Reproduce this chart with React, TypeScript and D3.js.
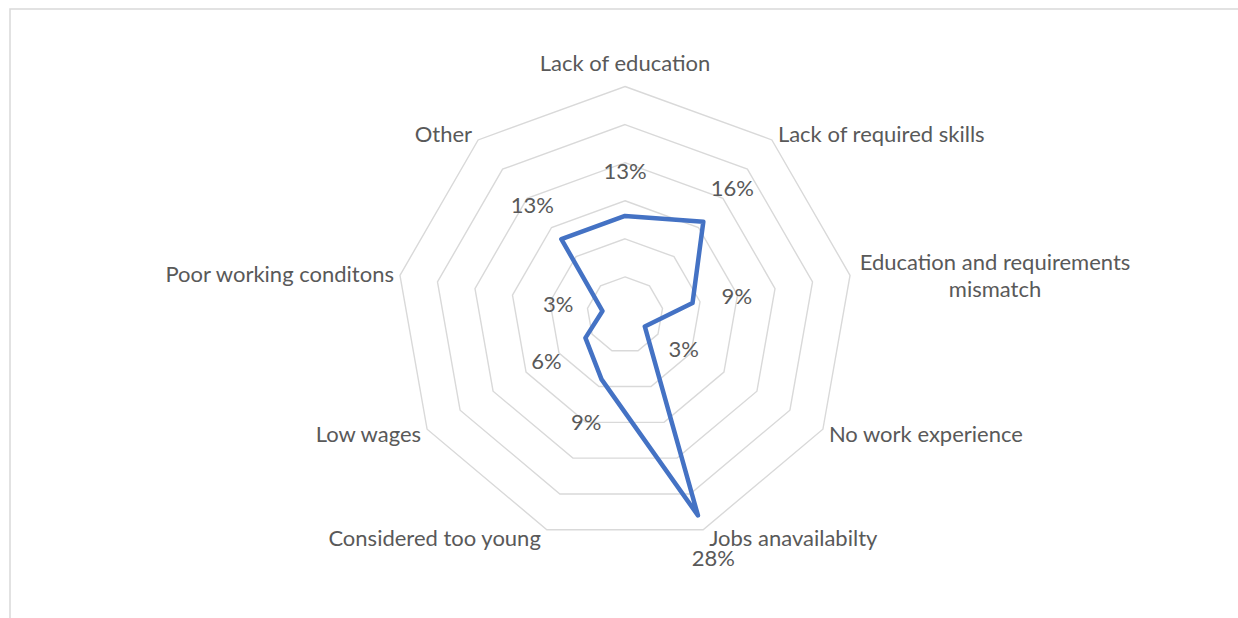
import React from "react";
import * as d3 from "d3";

const categories: string[][] = [
  ["Lack of education"],
  ["Lack of required skills"],
  ["Education and requirements", "mismatch"],
  ["No work experience"],
  ["Jobs anavailabilty"],
  ["Considered too young"],
  ["Low wages"],
  ["Poor working conditons"],
  ["Other"],
];
const values: number[] = [13, 16, 9, 3, 28, 9, 6, 3, 13];
const ringTicks: number[] = [5, 10, 15, 20, 25, 30];

const W = 1238;
const H = 618;
const cx = 625;
const cy = 315;
const R = 228.5;
const FONT = "Lato, 'Open Sans', sans-serif";
const TEXT = "#595959";

export default function App() {
  const n = categories.length;
  const angle = d3
    .scaleLinear()
    .domain([0, n])
    .range([0, 2 * Math.PI]);
  const r = d3.scaleLinear().domain([0, 30]).range([0, R]);

  const pt = (i: number, rad: number): [number, number] => {
    const a = angle(i);
    return [cx + rad * Math.sin(a), cy - rad * Math.cos(a)];
  };

  const lineGen = d3
    .line<[number, number]>()
    .x((d) => d[0])
    .y((d) => d[1])
    .curve(d3.curveLinearClosed);

  const rings = ringTicks.map((t) =>
    lineGen(d3.range(n).map((i) => pt(i, r(t))))
  );
  const dataPath = lineGen(values.map((v, i) => pt(i, r(v))));

  const fs = 22;

  return (
    <svg
      width={W}
      height={H}
      style={{ position: "absolute", left: 0, top: 0, display: "block" }}
    >
      <rect x={0} y={0} width={W} height={H} fill="#fff" />
      <rect
        x={10}
        y={9}
        width={W + 20}
        height={H + 20}
        fill="none"
        stroke="#d9d9d9"
        strokeWidth={1.5}
      />
      <g>
        {rings.map((d, i) => (
          <path key={i} d={d || ""} fill="none" stroke="#d9d9d9" strokeWidth={1.4} />
        ))}
      </g>
      <path
        d={dataPath || ""}
        fill="none"
        stroke="#4472C4"
        strokeWidth={4.5}
        strokeLinejoin="round"
      />
      <g fontFamily={FONT} fontSize={fs} fill={TEXT}>
        {values.map((v, i) => {
          const [x, y] = pt(i, r(v) + 45);
          return (
            <text key={i} x={x} y={y} textAnchor="middle" dominantBaseline="central">
              {v}%
            </text>
          );
        })}
      </g>
      <g fontFamily={FONT} fontSize={fs} fill={TEXT}>
        {categories.map((lines, i) => {
          const [vx, vy] = pt(i, R);
          const a = angle(i);
          const s = Math.sin(a);
          const c = Math.cos(a);
          let anchor: "start" | "middle" | "end" = "middle";
          let x = vx;
          let y = vy;
          if (Math.abs(s) < 0.01) {
            anchor = "middle";
            y = vy - 24;
          } else if (s > 0) {
            anchor = "start";
            x = vx + 6;
            y = vy - 8 * c;
          } else {
            anchor = "end";
            x = vx - 6;
            y = vy - 8 * c;
          }
          if (lines.length > 1) {
            const bx = vx + 145;
            return (
              <text key={i} textAnchor="middle">
                {lines.map((ln, j) => (
                  <tspan
                    key={j}
                    x={bx}
                    y={vy - 14 + j * 27}
                    dominantBaseline="central"
                  >
                    {ln}
                  </tspan>
                ))}
              </text>
            );
          }
          return (
            <text key={i} x={x} y={y} textAnchor={anchor} dominantBaseline="central">
              {lines[0]}
            </text>
          );
        })}
      </g>
    </svg>
  );
}
